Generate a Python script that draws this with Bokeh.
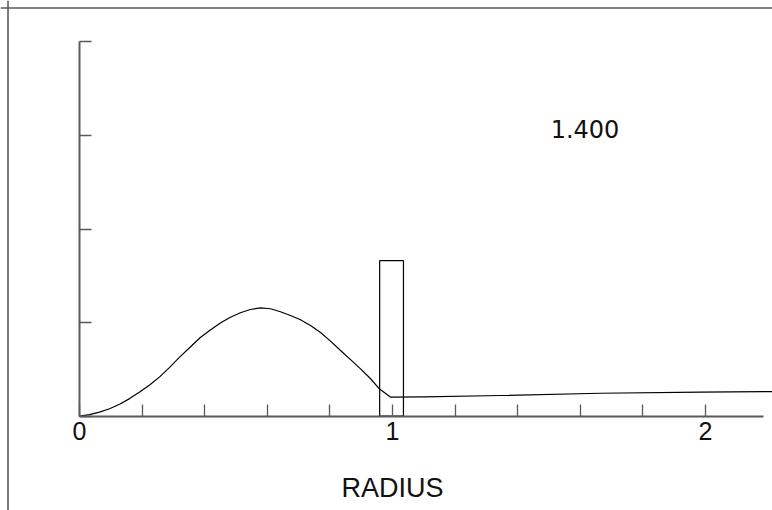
from bokeh.plotting import figure
from bokeh.models import Range1d, LinearAxis, FixedTicker, Span, Label, ColumnDataSource
from bokeh.embed import file_html
from bokeh.resources import INLINE

# ---- data ----
radius = [0.0, 0.032, 0.064, 0.096, 0.128, 0.160, 0.192, 0.224, 0.256, 0.288,
          0.319, 0.355, 0.385, 0.418, 0.450, 0.482, 0.514, 0.546, 0.578, 0.610,
          0.642, 0.674, 0.706, 0.738, 0.770, 0.802, 0.834, 0.866, 0.898, 0.930,
          0.958, 0.994, 1.10, 1.345, 1.664, 1.984, 2.25]
density = [0.0, 0.016, 0.043, 0.080, 0.128, 0.188, 0.258, 0.334, 0.420, 0.522,
           0.628, 0.742, 0.838, 0.922, 0.995, 1.057, 1.105, 1.140, 1.158, 1.148,
           1.116, 1.076, 1.030, 0.970, 0.895, 0.802, 0.702, 0.604, 0.506, 0.400,
           0.293, 0.203, 0.207, 0.221, 0.245, 0.258, 0.264]
box_left = [0.959]
box_right = [1.035]
box_top = [1.662]
box_bottom = [0.0]
x_major = [0, 1, 2]
x_minor = [0.2, 0.4, 0.6, 0.8, 1.2, 1.4, 1.6, 1.8]
y_major = [0, 1, 2, 3, 4]
annotation_text = "1.400"
x_title = "RADIUS"

# ---- layout (pixel geometry of the page) ----
W, H = 772, 510
x0_px, sx = 79.0, 313.0        # px of r=0, px per unit
y0_px, sy = 415.7, 93.6        # px (from top) of 0, px per unit
border_px = 7.5

def dx(px):
    return (px - x0_px) / sx

def dy(px):
    return (y0_px - px) / sy

p = figure(width=W, height=H, output_backend="svg", toolbar_location=None,
           x_range=Range1d(dx(0), dx(W)), y_range=Range1d(dy(H), dy(0)),
           x_axis_type=None, y_axis_type=None, title=None,
           min_border=0, min_border_left=0, min_border_right=0,
           min_border_top=0, min_border_bottom=0)
p.outline_line_color = None
p.xgrid.visible = False
p.ygrid.visible = False
p.background_fill_color = "white"
p.border_fill_color = "white"

axis_color = "#5a5a5a"
font = "Liberation Sans"

xaxis = LinearAxis(fixed_location=0, bounds=(0, 2.185),
                   ticker=FixedTicker(ticks=x_major, minor_ticks=x_minor))
xaxis.axis_line_color = axis_color
xaxis.axis_line_width = 2
xaxis.major_tick_line_color = axis_color
xaxis.minor_tick_line_color = axis_color
xaxis.major_tick_line_width = 1.3
xaxis.minor_tick_line_width = 1.3
xaxis.major_tick_in = 12
xaxis.major_tick_out = 0
xaxis.minor_tick_in = 12
xaxis.minor_tick_out = 0
xaxis.major_label_text_font = font
xaxis.major_label_text_font_size = "25px"
xaxis.major_label_text_color = "#111111"
xaxis.major_label_standoff = 6
p.add_layout(xaxis, "below")

yaxis = LinearAxis(fixed_location=0, bounds=(0, 4),
                   ticker=FixedTicker(ticks=y_major, minor_ticks=[]))
yaxis.axis_line_color = axis_color
yaxis.axis_line_width = 2
yaxis.major_tick_line_color = axis_color
yaxis.major_tick_line_width = 1.3
yaxis.major_tick_in = 12
yaxis.major_tick_out = 0
yaxis.minor_tick_line_color = None
yaxis.major_label_text_color = None
p.add_layout(yaxis, "left")

# frame border (only left and top are visible in the reference)
p.add_layout(Span(location=dx(border_px), dimension="height", line_color=axis_color, line_width=1.6))
p.add_layout(Span(location=dy(border_px), dimension="width", line_color=axis_color, line_width=1.6))

src = ColumnDataSource(dict(r=radius, d=density))
p.line("r", "d", source=src, line_color="black", line_width=1.2, line_join="round")

p.quad(left=box_left, right=box_right, top=box_top, bottom=box_bottom,
       fill_color=None, line_color="black", line_width=1.2)

p.add_layout(Label(x=dx(584.5), y=dy(128), text=annotation_text, text_align="center",
                   text_baseline="alphabetic", text_font="DejaVu Sans", text_font_size="24px",
                   text_color="#111111"))
p.add_layout(Label(x=dx(392), y=dy(487.7), text=x_title, text_align="center",
                   text_baseline="alphabetic", text_font=font, text_font_size="27px",
                   text_color="#111111"))

open("out.html", "w").write(file_html(p, INLINE))
